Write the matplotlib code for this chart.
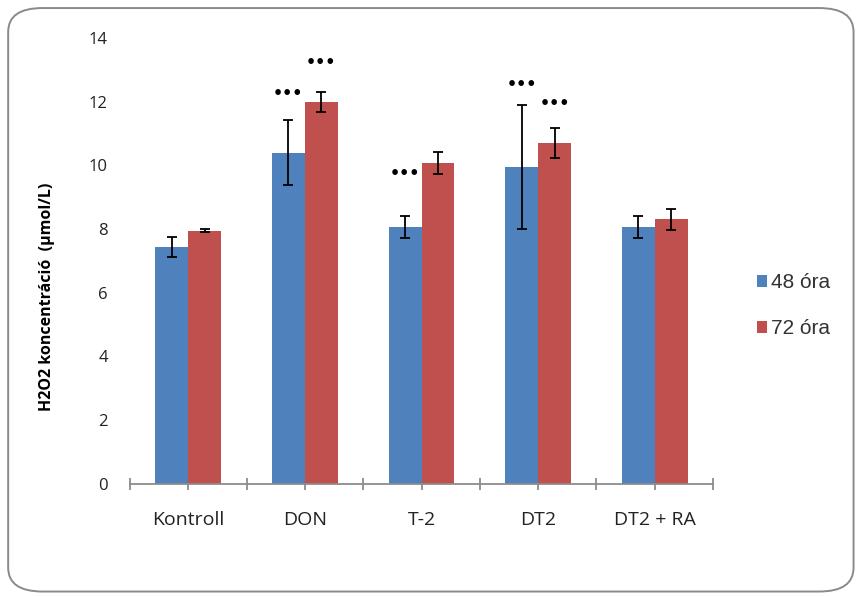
import matplotlib
matplotlib.use("Agg")
import matplotlib.pyplot as plt
import numpy as np
from matplotlib.patches import FancyBboxPatch, Patch

# Data
categories = ["Kontroll", "DON", "T-2", "DT2", "DT2 + RA"]
series_names = ["48 óra", "72 óra"]
h2o2_48 = [7.43, 10.39, 8.07, 9.95, 8.07]
err_48 = [0.31, 1.02, 0.34, 1.95, 0.34]
h2o2_72 = [7.94, 11.98, 10.07, 10.70, 8.30]
err_72 = [0.05, 0.31, 0.35, 0.48, 0.34]
# significance marks: (category index, series index, height)
sig_marks = [(1, 0, 12.25), (1, 1, 13.23), (2, 0, 9.73), (3, 0, 12.53), (3, 1, 11.93)]
sig_label = "•••"
y_ticks = [0, 2, 4, 6, 8, 10, 12, 14]

blue = "#4F81BD"
red = "#C0504D"
axis_grey = "#8C8C8C"
font = "Open Sans"

fig = plt.figure(figsize=(8.6, 5.96), dpi=100)
fig.patch.set_facecolor("white")

# rounded frame around the whole chart
frame = FancyBboxPatch((0.0095, 0.0075), 0.983, 0.979,
                       boxstyle="round,pad=0,rounding_size=0.04",
                       transform=fig.transFigure, facecolor="none",
                       edgecolor="#8A8A8A", linewidth=1.4, zorder=0)
fig.patches.append(frame)

ax = fig.add_axes([130 / 860, (596 - 483.5) / 596, (713 - 130) / 860, (483.5 - 38) / 596])
ax.set_facecolor("none")

x = np.arange(len(categories))
w = 0.283
ekw = dict(ecolor="black", elinewidth=1.3, capsize=3.6, capthick=1.3)
b1 = ax.bar(x - w / 2, h2o2_48, w, color=blue, yerr=err_48, error_kw=ekw, zorder=2)
b2 = ax.bar(x + w / 2, h2o2_72, w, color=red, yerr=err_72, error_kw=ekw, zorder=2)

for ci, si, yy in sig_marks:
    xx = x[ci] + (-w / 2 if si == 0 else w / 2)
    ax.text(xx, yy, sig_label, ha="center", va="center", fontsize=11.5,
            fontweight="bold", color="black", family="DejaVu Sans")

ax.set_xlim(-0.5, len(categories) - 0.5)
ax.set_ylim(0, 14)
ax.set_yticks(y_ticks)
ax.set_yticklabels([str(v) for v in y_ticks], family=font, fontsize=12, color="#222222")
ax.tick_params(axis="y", length=0, pad=16)

ax.set_xticks(x)
ax.set_xticklabels(categories, family=font, fontsize=14, color="#222222")
ax.set_xticks(np.arange(len(categories) + 1) - 0.5, minor=True)
ax.tick_params(axis="x", which="both", direction="inout", length=9, width=1.3,
               color=axis_grey, pad=15)

for s in ["top", "right", "left"]:
    ax.spines[s].set_visible(False)
ax.spines["bottom"].set_color(axis_grey)
ax.spines["bottom"].set_linewidth(1.3)

ax.set_ylabel("H2O2 koncentráció  (µmol/L)", family=font, fontweight="bold",
              fontsize=11.5, color="black")
ax.yaxis.set_label_coords(-0.128, 0.42)

handles = [Patch(facecolor=blue), Patch(facecolor=red)]
leg = fig.legend(handles, series_names, loc="center left",
                 bbox_to_anchor=(0.858, 0.487), frameon=False,
                 prop={"family": ["Liberation Sans Narrow", "Liberation Sans"], "size": 15},
                 handlelength=0.5, handleheight=0.5, handletextpad=0.2,
                 labelspacing=1.3)
for t in leg.get_texts():
    t.set_color("#333333")

fig.savefig("out.png", dpi=100, facecolor="white")
